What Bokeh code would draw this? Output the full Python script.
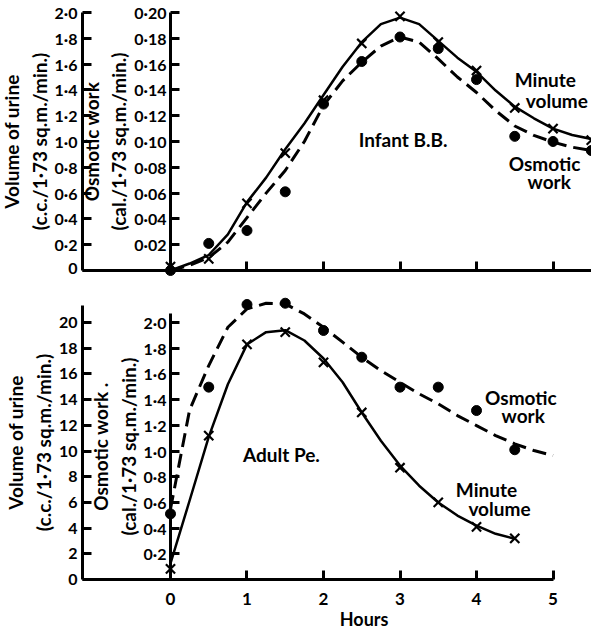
from bokeh.plotting import figure
from bokeh.models import Range1d, LinearAxis, FixedTicker, Label
from bokeh.layouts import column
from bokeh.embed import file_html
from bokeh.resources import INLINE

FONT = "Lato"

# ---------------- Infant B.B. (top panel) ----------------
infant_hours = [0, 0.5, 1.0, 1.5, 2.0, 2.5, 3.0, 3.5, 4.0, 4.5, 5.0, 5.5]
infant_volume = [0.03, 0.09, 0.52, 0.91, 1.32, 1.76, 1.97, 1.77, 1.55, 1.26, 1.10, 1.01]
infant_osmotic = [0.0, 0.021, 0.031, 0.061, 0.129, 0.162, 0.181, 0.172, 0.148, 0.104, 0.100, 0.093]

infant_curve_hours = [0, 0.25, 0.5, 0.75, 1.0, 1.25, 1.5, 1.75, 2.0, 2.25, 2.5, 2.75,
                      3.0, 3.25, 3.5, 3.75, 4.0, 4.25, 4.5, 4.75, 5.0, 5.25, 5.5]
infant_volume_curve = [0.0, 0.054, 0.12, 0.28, 0.53, 0.72, 0.94, 1.14, 1.36, 1.58, 1.77, 1.91,
                       1.96, 1.91, 1.78, 1.65, 1.54, 1.395, 1.27, 1.18, 1.10, 1.05, 1.02]
infant_osmotic_curve = [0.0, 0.004, 0.010, 0.022, 0.041, 0.060, 0.0775, 0.100, 0.128, 0.147, 0.1615, 0.174,
                        0.181, 0.177, 0.164, 0.150, 0.138, 0.124, 0.112, 0.1047, 0.0995, 0.0956, 0.093]

# ---------------- Adult Pe. (bottom panel) ----------------
adult_hours = [0, 0.5, 1.0, 1.5, 2.0, 2.5, 3.0, 3.5, 4.0, 4.5]
adult_volume = [0.83, 11.2, 18.3, 19.25, 16.9, 13.0, 8.7, 6.0, 4.1, 3.2]
adult_osmotic = [0.511, 1.497, 2.14, 2.15, 1.938, 1.73, 1.497, 1.497, 1.315, 1.01]

adult_volume_curve_hours = [0, 0.25, 0.5, 0.75, 1.0, 1.25, 1.5, 1.75, 2.0, 2.25, 2.5, 2.75,
                            3.0, 3.25, 3.5, 3.75, 4.0, 4.25, 4.5]
adult_volume_curve = [1.25, 6.15, 11.1, 15.2, 18.3, 19.25, 19.4, 18.6, 17.2, 15.35, 13.0, 10.8,
                      8.87, 7.3, 6.0, 4.98, 4.2, 3.56, 3.17]
adult_osmotic_curve_hours = [0, 0.25, 0.5, 0.75, 1.0, 1.25, 1.5, 1.75, 2.0, 2.25, 2.5, 2.75,
                             3.0, 3.25, 3.5, 3.75, 4.0, 4.25, 4.5, 4.75, 5.0]
adult_osmotic_curve = [0.55, 1.32, 1.665, 1.963, 2.106, 2.15, 2.145, 2.067, 1.963, 1.847, 1.73, 1.626,
                       1.535, 1.445, 1.367, 1.276, 1.198, 1.12, 1.056, 1.004, 0.965]

# ---------------- ticks and tick labels ----------------
hour_ticks = [0, 1, 2, 3, 4, 5]
top_x_ticks = [1, 2, 3, 4, 5]
top_volume_ticks = [0, 0.2, 0.4, 0.6, 0.8, 1.0, 1.2, 1.4, 1.6, 1.8, 2.0]
top_volume_labels = ["0", "0·2", "0·4", "0·6", "0·8", "1·0", "1·2", "1·4", "1·6", "1·8", "2·0"]
top_osmotic_ticks = [0.02, 0.04, 0.06, 0.08, 0.10, 0.12, 0.14, 0.16, 0.18, 0.20]
top_osmotic_labels = ["0·02", "0·04", "0·06", "0·08", "0·10", "0·12", "0·14", "0·16", "0·18", "0·20"]
bottom_volume_ticks = [0, 2, 4, 6, 8, 10, 12, 14, 16, 18, 20]
bottom_volume_labels = ["0", "2", "4", "6", "8", "10", "12", "14", "16", "18", "20"]
bottom_osmotic_ticks = [0.2, 0.4, 0.6, 0.8, 1.0, 1.2, 1.4, 1.6, 1.8, 2.0]
bottom_osmotic_labels = ["0·2", "0·4", "0·6", "0·8", "1·0", "1·2", "1·4", "1·6", "1·8", "2·0"]

# ---------------- layout constants ----------------
X_START, X_END = -2.222, 5.503   # frame spans the whole page width
OUTER_X = -1.150                 # position of the outer (volume) axis
AXIS_COLOR = "black"


def style_axis(ax, label_size="16px", title_size="19px"):
    ax.axis_line_width = 3
    ax.axis_line_color = AXIS_COLOR
    ax.major_tick_line_color = AXIS_COLOR
    ax.major_tick_line_width = 3
    ax.major_tick_in = 9
    ax.major_tick_out = 0
    ax.minor_tick_line_color = None
    ax.major_label_text_font = FONT
    ax.major_label_text_font_size = label_size
    ax.major_label_text_font_style = "bold"
    ax.major_label_text_color = "black"
    ax.axis_label_text_font = FONT
    ax.axis_label_text_font_size = title_size
    ax.axis_label_text_font_style = "bold"
    ax.axis_label_text_color = "black"
    ax.major_label_standoff = 5
    ax.axis_label_standoff = 1


def y_axis(p, loc, ticks, labels, bounds, title, range_name="default", standoff=5):
    ax = LinearAxis(y_range_name=range_name, fixed_location=loc,
                    ticker=FixedTicker(ticks=ticks), bounds=bounds)
    style_axis(ax)
    ax.major_label_overrides = dict(zip(ticks, labels))
    ax.major_label_standoff = standoff
    ax.axis_label = title
    p.add_layout(ax, "left")


def add_label(p, x, y, text, size="19px"):
    p.add_layout(Label(x=x, y=y, text=text, text_font=FONT, text_font_size=size,
                       text_font_style="bold", text_color="black", text_align="center",
                       text_baseline="middle"))


def base_fig(frame_h, y_start, y_end, osm_start, osm_end):
    p = figure(frame_width=591, frame_height=frame_h,
               x_range=Range1d(X_START, X_END), y_range=Range1d(y_start, y_end),
               y_axis_location=None, x_axis_location=None,
               output_backend="svg", toolbar_location=None,
               min_border_left=0, min_border_right=0, min_border_top=0, min_border_bottom=0)
    p.extra_y_ranges = {"osm": Range1d(osm_start, osm_end)}
    p.grid.visible = False
    p.outline_line_color = None
    return p


# ================= top figure =================
top = base_fig(276, -0.0465, 2.093, -0.00465, 0.2093)
tx = LinearAxis(fixed_location=0, ticker=FixedTicker(ticks=top_x_ticks), bounds=(OUTER_X, X_END))
style_axis(tx)
tx.major_label_overrides = {t: "" for t in top_x_ticks}
top.add_layout(tx, "below")
y_axis(top, OUTER_X, top_volume_ticks, top_volume_labels, (0, 2.0),
       "Volume of urine\n(c.c./1·73 sq.m./min.)")
y_axis(top, 0, top_osmotic_ticks, top_osmotic_labels, (0, 0.2),
       "Osmotic work\n(cal./1·73 sq.m./min.)", range_name="osm", standoff=4)

top.line(infant_curve_hours, infant_volume_curve, line_width=2.5, color="black")
top.line(infant_curve_hours, infant_osmotic_curve, y_range_name="osm", line_width=3,
         color="black", line_dash="14 7")
top.scatter(infant_hours, infant_volume, marker="x", size=13, line_width=2.2, color="black")
top.scatter(infant_hours, infant_osmotic, y_range_name="osm", marker="circle", size=10,
            color="black")

add_label(top, 3.04, 1.015, "Infant B.B.")
add_label(top, 4.90, 1.48, "Minute")
add_label(top, 5.05, 1.32, "volume")
add_label(top, 4.89, 0.83, "Osmotic")
add_label(top, 4.95, 0.69, "work")

# ================= bottom figure =================
# frame runs from page y=276 down to the page bottom (y=632); value 0 sits at y=579
bot = base_fig(356, -4.12, 23.58, -0.412, 2.358)
bx = LinearAxis(fixed_location=0, ticker=FixedTicker(ticks=hour_ticks), bounds=(OUTER_X, 5))
style_axis(bx, label_size="17px")
bx.major_label_standoff = 13
bot.add_layout(bx, "below")
add_label(bot, 2.53, -3.1, "Hours", size="18px")

y_axis(bot, OUTER_X, bottom_volume_ticks, bottom_volume_labels, (0, 21.3),
       "Volume of urine\n(c.c./1·73 sq.m./min.)")
y_axis(bot, 0, bottom_osmotic_ticks, bottom_osmotic_labels, (0, 2.07),
       "Osmotic work .\n(cal./1·73 sq.m./min.)", range_name="osm", standoff=4)

bot.line(adult_volume_curve_hours, adult_volume_curve, line_width=2.5, color="black")
bot.line(adult_osmotic_curve_hours, adult_osmotic_curve, y_range_name="osm", line_width=3,
         color="black", line_dash="14 7")
bot.scatter(adult_hours, adult_volume, marker="x", size=13, line_width=2.2, color="black")
bot.scatter(adult_hours, adult_osmotic, y_range_name="osm", marker="circle", size=10,
            color="black")

add_label(bot, 1.45, 9.73, "Adult Pe.")
add_label(bot, 4.58, 14.16, "Osmotic")
add_label(bot, 4.61, 12.76, "work")
add_label(bot, 4.13, 7.0, "Minute")
add_label(bot, 4.30, 5.53, "volume")

layout = column(top, bot, spacing=0)
open("out.html", "w").write(file_html(layout, INLINE))
